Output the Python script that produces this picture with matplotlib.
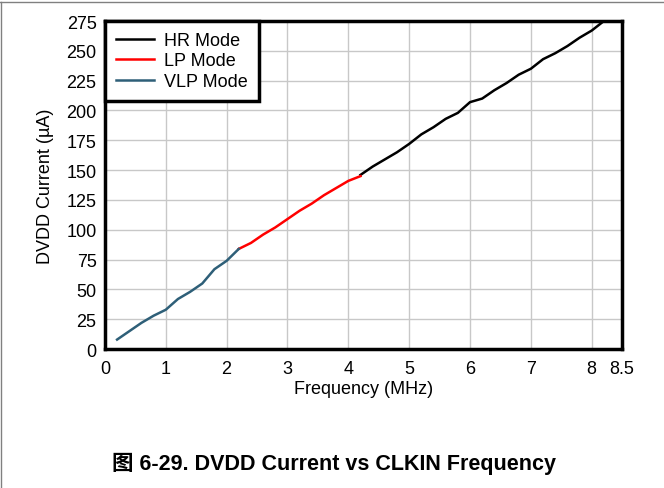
import matplotlib
matplotlib.use("Agg")
import matplotlib.pyplot as plt
from matplotlib.lines import Line2D

plt.rcParams['font.family'] = ['Liberation Sans', 'Noto Sans CJK SC', 'DejaVu Sans']

# VLP mode (0.2 - 2.2 MHz)
vlp_freq = [0.2, 0.4, 0.6, 0.8, 1.0, 1.2, 1.4, 1.6, 1.8, 2.0, 2.2]
vlp_curr = [8, 15, 22, 28, 33, 42, 48, 55, 67, 74, 84]
# LP mode (2.2 - 4.2 MHz)
lp_freq = [2.2, 2.4, 2.6, 2.8, 3.0, 3.2, 3.4, 3.6, 3.8, 4.0, 4.2]
lp_curr = [84, 89, 96, 102, 109, 116, 122, 129, 135, 141, 145]
# HR mode (4.2 - 8.2 MHz)
hr_freq = [4.2, 4.4, 4.6, 4.8, 5.0, 5.2, 5.4, 5.6, 5.8, 6.0, 6.2, 6.4, 6.6,
           6.8, 7.0, 7.2, 7.4, 7.6, 7.8, 8.0, 8.2]
hr_curr = [146, 153, 159, 165, 172, 180, 186, 193, 198, 207, 210, 217, 223,
           230, 235, 243, 248, 254, 261, 267, 275]

xticks = [0, 1, 2, 3, 4, 5, 6, 7, 8, 8.5]
xticklabels = ['0', '1', '2', '3', '4', '5', '6', '7', '8', '8.5']
yticks = list(range(0, 276, 25))

fig = plt.figure(figsize=(6.64, 4.89), dpi=100)
ax = fig.add_axes([0.158, 0.284, 0.779, 0.671])

ax.plot(hr_freq, hr_curr, color='black', lw=1.8, label='HR Mode')
ax.plot(lp_freq, lp_curr, color='#ff0000', lw=1.8, label='LP Mode')
ax.plot(vlp_freq, vlp_curr, color='#2e5f78', lw=1.8, label='VLP Mode')

ax.set_xlim(0, 8.5)
ax.set_ylim(0, 275)
ax.set_xticks(xticks)
ax.set_xticklabels(xticklabels)
ax.set_yticks(yticks)
ax.tick_params(length=0, labelsize=13)
ax.tick_params(axis='x', pad=8)
ax.tick_params(axis='y', pad=6)
ax.grid(True, color='#c8c8c8', lw=1)
ax.set_axisbelow(True)
for s in ax.spines.values():
    s.set_linewidth(2.5)
    s.set_color('black')

ax.set_xlabel('Frequency (MHz)', fontsize=13, labelpad=2)
ax.set_ylabel('DVDD Current (\u00b5A)', fontsize=13, labelpad=9)

leg = ax.legend(loc='upper left', fontsize=13, fancybox=False, framealpha=1,
                edgecolor='black', borderaxespad=0, handlelength=2.1,
                labelspacing=0.2, borderpad=0.6, handletextpad=0.6)
leg.get_frame().set_linewidth(2.5)

fig.text(0.503, 0.052, '图 6-29. DVDD Current vs CLKIN Frequency', ha='center',
         va='center', fontsize=15.5, fontweight='bold')

# figure border (top and left)
fig.add_artist(Line2D([0, 1], [0.994, 0.994], color='#808080', lw=1,
                      transform=fig.transFigure))
fig.add_artist(Line2D([0.002, 0.002], [0, 0.994], color='#808080', lw=1,
                      transform=fig.transFigure))

fig.savefig('out.png', dpi=100)
